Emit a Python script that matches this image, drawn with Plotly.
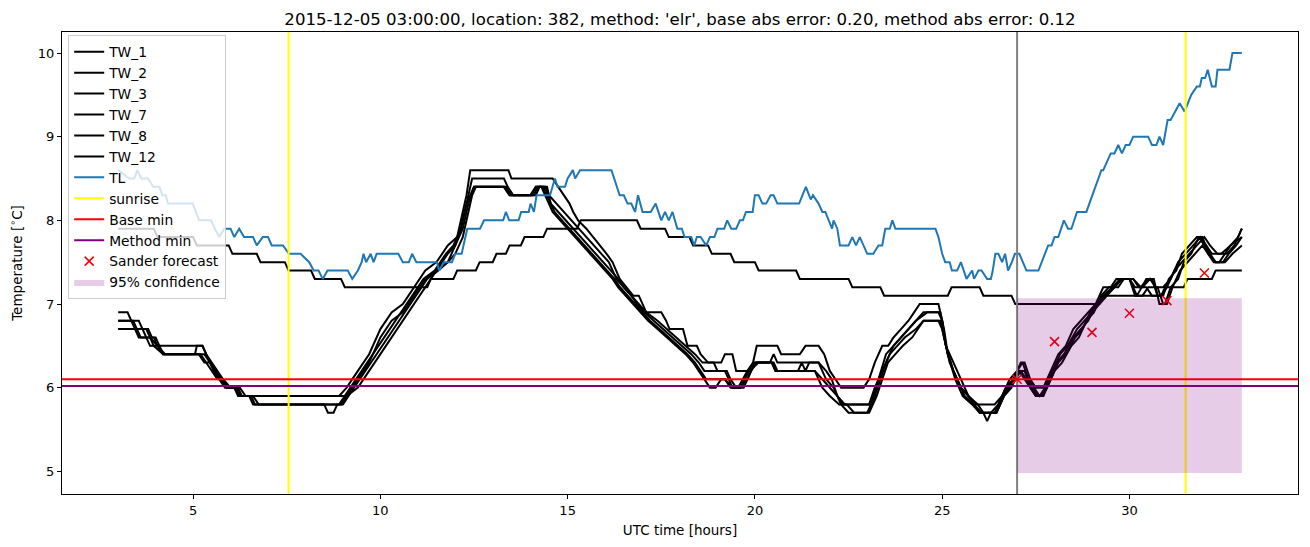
import plotly.graph_objects as go

TITLE = "2015-12-05 03:00:00, location: 382, method: 'elr', base abs error: 0.20, method abs error: 0.12"

# ---- road-surface sensors (x = UTC hour, y = temperature) ----
TW_1 = [(3.0,6.9),(3.25,6.9),(3.35,6.8),(3.55,6.8),(3.65,6.7),(3.8,6.7),(3.9,6.6),(4.0,6.6),(4.1,6.5),
        (5.25,6.5),(5.35,6.4),(5.45,6.3),(5.6,6.2),(5.75,6.1),(5.9,6.0),(6.1,6.0),(6.25,5.9),(8.9,5.9),
        (9.1,6.0),(9.4,6.2),(9.7,6.4),(10.0,6.7),(10.3,6.9),(10.6,7.0),(10.9,7.2),(11.2,7.4),(11.5,7.5),
        (11.8,7.7),(12.05,7.8),(12.2,8.1),(12.3,8.3),(12.4,8.6),(13.42,8.6),(13.5,8.5),(14.6,8.5),
        (14.75,8.4),(14.9,8.3),(15.05,8.2),(15.15,8.1),(15.28,8.0),(15.5,7.9),(15.67,7.8),(15.86,7.7),
        (16.04,7.6),(16.2,7.5),(16.39,7.3),(16.57,7.2),(16.75,7.1),(16.9,7.1),(17.1,6.9),(17.5,6.9),
        (17.63,6.8),(17.72,6.7),(18.08,6.7),(18.2,6.5),(18.45,6.5),(18.55,6.4),(18.75,6.3),(19.1,6.3),
        (19.2,6.4),(19.4,6.4),(19.5,6.2),(19.8,6.2),(19.95,6.3),(20.05,6.5),(20.6,6.5),(20.7,6.4),
        (21.2,6.4),(21.35,6.5),(21.7,6.5),(21.85,6.4),(22.0,6.2),(22.15,6.1),(22.3,6.0),(22.9,6.0),
        (23.05,6.1),(23.2,6.3),(23.4,6.5),(23.56,6.5),(23.7,6.6),(23.9,6.7),(24.1,6.8),(24.25,6.9),
        (24.4,7.0),(24.9,7.0),(25.0,6.8),(25.1,6.5),(25.3,6.3),(25.5,6.1),(25.7,5.9),(25.9,5.8),
        (26.4,5.8),(26.6,5.9),(26.8,6.1),(27.0,6.2),(27.1,6.3),(27.2,6.3),(27.35,6.1),(27.5,6.0),
        (27.7,6.0),(27.9,6.2),(28.1,6.4),(28.3,6.5),(28.5,6.7),(28.7,6.8),(28.9,6.9),(29.1,7.0),
        (29.3,7.2),(29.5,7.2),(29.65,7.3),(30.0,7.3),(30.2,7.1),(30.45,7.3),(30.6,7.3),(30.75,7.1),
        (30.9,7.1),(31.05,7.3),(31.25,7.4),(31.4,7.6),(31.6,7.7),(31.8,7.8),(31.95,7.8),(32.1,7.6),
        (32.25,7.5),(32.4,7.5),(32.55,7.6),(32.7,7.7),(32.9,7.8),(33.0,7.9)]

TW_2 = [(3.0,6.8),(3.35,6.8),(3.45,6.7),(3.65,6.7),(3.75,6.6),(3.95,6.6),(4.05,6.5),(4.2,6.4),
        (5.15,6.4),(5.3,6.3),(5.45,6.3),(5.55,6.2),(5.7,6.1),(5.85,6.0),(6.1,6.0),(6.2,5.9),(8.9,5.9),
        (9.1,5.9),(9.4,6.1),(9.7,6.3),(10.0,6.6),(10.3,6.8),(10.6,6.9),(10.9,7.1),(11.2,7.3),(11.5,7.4),
        (11.8,7.6),(12.0,7.7),(12.15,7.9),(12.3,8.2),(12.45,8.5),(13.3,8.5),(13.4,8.4),(13.55,8.3),
        (14.1,8.3),(14.2,8.4),(14.4,8.4),(14.5,8.3),(14.7,8.2),(14.9,8.1),(15.1,8.0),(15.3,7.9),
        (15.5,7.8),(15.7,7.7),(15.9,7.6),(16.1,7.5),(16.3,7.3),(16.5,7.2),(16.7,7.1),(16.9,7.0),
        (17.1,6.9),(17.4,6.8),(17.65,6.7),(17.9,6.6),(18.15,6.5),(18.4,6.4),(18.6,6.3),(18.9,6.3),
        (19.0,6.2),(19.25,6.2),(19.35,6.1),(19.5,6.0),(19.7,6.0),(19.9,6.2),(20.05,6.3),(20.4,6.3),
        (20.5,6.4),(20.6,6.3),(21.7,6.3),(21.9,6.2),(22.05,6.1),(22.2,5.9),(22.35,5.8),(23.1,5.8),
        (23.3,6.1),(23.5,6.4),(23.7,6.5),(23.9,6.6),(24.1,6.7),(24.3,6.8),(24.5,6.9),(24.9,6.9),
        (25.0,6.8),(25.1,6.5),(25.3,6.2),(25.5,6.0),(25.7,5.9),(25.85,5.8),(26.0,5.7),(26.4,5.7),
        (26.6,5.9),(26.8,6.0),(27.0,6.2),(27.15,6.3),(27.3,6.1),(27.45,6.0),(27.6,5.9),(27.75,6.0),
        (27.95,6.2),(28.15,6.4),(28.35,6.5),(28.6,6.7),(28.8,6.8),(29.0,6.9),(29.2,7.0),(29.4,7.1),
        (29.6,7.2),(29.8,7.3),(30.1,7.3),(30.3,7.2),(30.5,7.3),(30.65,7.3),(30.8,7.0),(30.95,7.0),
        (31.1,7.2),(31.3,7.3),(31.45,7.5),(31.65,7.6),(31.85,7.8),(32.0,7.7),(32.15,7.6),(32.3,7.5),
        (32.5,7.5),(32.65,7.6),(32.85,7.7),(33.0,7.8)]

TW_3 = [(3.0,6.8),(3.4,6.8),(3.5,6.7),(3.75,6.7),(3.85,6.6),(4.05,6.5),(4.25,6.4),(5.2,6.4),
        (5.35,6.3),(5.5,6.2),(5.65,6.1),(5.8,6.1),(5.95,6.0),(6.2,6.0),(6.3,5.9),(6.55,5.9),(6.65,5.8),
        (8.9,5.8),(9.05,5.9),(9.35,6.1),(9.65,6.3),(9.95,6.5),(10.25,6.7),(10.55,6.9),(10.85,7.1),
        (11.15,7.3),(11.45,7.4),(11.75,7.6),(11.95,7.7),(12.15,7.9),(12.3,8.2),(12.5,8.4),(13.3,8.4),
        (13.45,8.3),(14.15,8.3),(14.25,8.4),(14.45,8.4),(14.55,8.2),(14.75,8.1),(14.95,8.0),(15.15,7.9),
        (15.35,7.8),(15.55,7.7),(15.75,7.6),(15.95,7.5),(16.15,7.4),(16.35,7.3),(16.5,7.2),(16.7,7.1),
        (16.85,7.0),(17.05,6.9),(17.3,6.8),(17.55,6.7),(17.8,6.6),(18.05,6.5),(18.3,6.4),(18.5,6.3),
        (18.65,6.2),(19.2,6.2),(19.4,6.0),(19.6,6.0),(19.85,6.2),(20.1,6.3),(20.5,6.3),(20.6,6.2),
        (21.15,6.2),(21.25,6.3),(21.35,6.2),(21.45,6.3),(21.7,6.3),(21.9,6.1),(22.1,6.0),(22.3,5.8),
        (22.5,5.7),(23.0,5.7),(23.2,5.9),(23.35,6.1),(23.5,6.3),(23.7,6.5),(23.9,6.6),(24.1,6.7),
        (24.3,6.8),(24.6,6.9),(24.95,6.9),(25.05,6.7),(25.15,6.4),(25.35,6.1),(25.55,5.9),(25.8,5.8),
        (26.0,5.7),(26.45,5.7),(26.55,5.8),(26.75,6.0),(26.95,6.1),(27.1,6.2),(27.25,6.1),(27.4,6.0),
        (27.55,5.9),(27.7,5.9),(27.85,6.1),(28.05,6.3),(28.25,6.4),(28.5,6.6),(28.7,6.7),(28.9,6.8),
        (29.1,7.0),(29.3,7.1),(29.55,7.2),(29.75,7.3),(30.0,7.3),(30.15,7.2),(30.35,7.2),(30.55,7.3),
        (30.7,7.2),(30.9,7.2),(31.1,7.3),(31.3,7.5),(31.5,7.6),(31.7,7.7),(31.9,7.8),(32.05,7.7),
        (32.2,7.6),(32.45,7.6),(32.7,7.7),(33.0,7.8)]

TW_7 = [(3.0,6.7),(3.5,6.7),(3.6,6.6),(3.85,6.6),(3.95,6.5),(4.2,6.4),(5.3,6.4),(5.45,6.3),
        (5.6,6.2),(5.75,6.1),(5.95,6.0),(6.25,6.0),(6.4,5.9),(6.6,5.9),(6.75,5.8),(8.5,5.8),(8.6,5.7),
        (8.75,5.7),(8.85,5.8),(9.0,5.8),(9.15,5.9),(9.45,6.1),(9.75,6.3),(10.05,6.5),(10.35,6.7),
        (10.65,6.9),(10.95,7.1),(11.25,7.3),(11.55,7.4),(11.8,7.5),(12.0,7.7),(12.2,7.9),(12.35,8.2),
        (12.5,8.4),(13.35,8.4),(13.5,8.3),(14.05,8.3),(14.15,8.4),(14.35,8.4),(14.45,8.3),(14.65,8.1),
        (14.85,8.0),(15.05,7.9),(15.25,7.8),(15.45,7.7),(15.65,7.6),(15.85,7.5),(16.05,7.4),(16.25,7.3),
        (16.4,7.2),(16.6,7.1),(16.8,7.0),(17.0,6.9),(17.2,6.8),(17.45,6.7),(17.7,6.6),(17.95,6.5),
        (18.2,6.4),(18.4,6.3),(18.55,6.2),(18.7,6.1),(19.2,6.1),(19.35,6.0),(19.55,6.0),(19.8,6.2),
        (20.0,6.3),(20.45,6.3),(20.55,6.2),(21.6,6.2),(21.8,6.1),(22.0,6.0),(22.2,5.9),(22.4,5.8),
        (23.05,5.8),(23.2,6.0),(23.4,6.2),(23.6,6.4),(23.8,6.5),(24.0,6.6),(24.3,6.7),(24.5,6.8),
        (24.95,6.8),(25.05,6.6),(25.2,6.3),(25.4,6.1),(25.6,5.9),(25.85,5.8),(26.05,5.7),(26.45,5.7),
        (26.65,5.9),(26.85,6.0),(27.05,6.2),(27.2,6.2),(27.35,6.0),(27.5,5.9),(27.7,5.9),(27.9,6.1),
        (28.1,6.3),(28.3,6.4),(28.55,6.6),(28.75,6.7),(28.95,6.9),(29.15,7.0),(29.35,7.1),(29.6,7.2),
        (29.8,7.3),(30.0,7.3),(30.15,7.1),(30.35,7.1),(30.5,7.2),(30.75,7.2),(30.9,7.0),(31.0,7.0),
        (31.15,7.2),(31.35,7.4),(31.55,7.5),(31.75,7.6),(31.95,7.7),(32.1,7.6),(32.3,7.5),(32.55,7.5),
        (32.75,7.6),(33.0,7.7)]

TW_8 = [(3.0,6.7),(3.45,6.7),(3.55,6.6),(3.75,6.6),(3.85,6.5),(4.1,6.5),(4.2,6.4),(5.05,6.4),
        (5.1,6.5),(5.25,6.5),(5.35,6.4),(5.5,6.3),(5.65,6.2),(5.8,6.1),(6.0,6.0),(6.15,6.0),(6.3,5.9),
        (6.5,5.9),(6.6,5.8),(8.95,5.8),(9.1,5.9),(9.4,6.0),(9.7,6.2),(10.0,6.4),(10.3,6.6),(10.6,6.8),
        (10.9,7.0),(11.2,7.2),(11.5,7.4),(11.8,7.5),(12.0,7.6),(12.2,7.8),(12.35,8.1),(12.45,8.3),
        (12.55,8.4),(13.3,8.4),(13.45,8.3),(14.0,8.3),(14.15,8.4),(14.3,8.4),(14.4,8.3),(14.6,8.1),
        (14.8,8.0),(15.0,7.9),(15.2,7.8),(15.4,7.7),(15.6,7.6),(15.8,7.5),(16.0,7.4),(16.2,7.3),
        (16.35,7.2),(16.55,7.1),(16.75,7.0),(16.95,6.9),(17.15,6.8),(17.4,6.7),(17.65,6.6),(17.9,6.5),
        (18.15,6.4),(18.35,6.3),(18.5,6.2),(18.65,6.1),(18.8,6.0),(18.95,6.0),(19.1,6.1),(19.2,6.1),
        (19.4,6.0),(19.6,6.0),(19.8,6.1),(20.0,6.3),(20.45,6.3),(20.55,6.2),(21.6,6.2),(21.8,6.0),
        (22.0,5.9),(22.25,5.8),(22.45,5.8),(22.65,5.7),(23.05,5.7),(23.25,5.9),(23.4,6.1),(23.55,6.3),
        (23.75,6.4),(23.95,6.5),(24.2,6.6),(24.35,6.7),(24.5,6.8),(24.9,6.8),(25.0,6.7),(25.15,6.4),
        (25.3,6.2),(25.5,6.0),(25.7,5.9),(25.95,5.8),(26.1,5.7),(26.2,5.6),(26.3,5.7),(26.5,5.8),
        (26.7,6.0),(26.9,6.1),(27.05,6.2),(27.2,6.1),(27.35,6.0),(27.5,5.9),(27.65,5.9),(27.8,6.0),
        (28.0,6.2),(28.2,6.3),(28.45,6.5),(28.65,6.6),(28.85,6.8),(29.05,6.9),(29.25,7.1),(29.45,7.2),
        (29.7,7.2),(29.85,7.3),(30.1,7.3),(30.25,7.2),(30.45,7.2),(30.6,7.1),(30.85,7.1),(31.0,7.2),
        (31.2,7.4),(31.4,7.5),(31.6,7.6),(31.8,7.7),(32.0,7.8),(32.15,7.7),(32.35,7.6),(32.6,7.6),
        (32.8,7.7),(33.0,7.9)]

TW_12 = [(3.0,7.9),(3.95,7.9),(4.05,7.8),(5.0,7.8),(5.1,7.7),(5.95,7.7),(6.05,7.6),(6.7,7.6),
         (6.8,7.5),(7.45,7.5),(7.55,7.4),(8.15,7.4),(8.25,7.3),(8.95,7.3),(9.05,7.2),(11.25,7.2),
         (11.35,7.3),(11.95,7.3),(12.05,7.4),(12.55,7.4),(12.65,7.5),(13.0,7.5),(13.1,7.6),(13.35,7.6),
         (13.45,7.7),(13.75,7.7),(13.85,7.8),(14.35,7.8),(14.45,7.9),(15.25,7.9),(15.35,8.0),(16.85,8.0),
         (16.95,7.9),(17.6,7.9),(17.7,7.8),(18.25,7.8),(18.35,7.7),(18.75,7.7),(18.85,7.6),(19.35,7.6),
         (19.45,7.5),(20.0,7.5),(20.1,7.4),(21.1,7.4),(21.2,7.3),(22.5,7.3),(22.6,7.2),(23.35,7.2),
         (23.45,7.1),(25.15,7.1),(25.25,7.2),(26.0,7.2),(26.1,7.1),(26.85,7.1),(26.95,7.0),(29.2,7.0),
         (29.35,7.1),(30.85,7.1),(30.95,7.2),(31.45,7.2),(31.55,7.3),(32.2,7.3),(32.3,7.4),(33.0,7.4)]

TL = [(3.0,8.6),(3.3,8.5),(3.43,8.5),(3.51,8.6),(3.62,8.5),(3.8,8.5),(3.93,8.4),(4.1,8.4),(4.18,8.3),
      (4.27,8.3),(4.33,8.2),(4.99,8.2),(5.16,8.0),(5.48,8.0),(5.58,7.9),(5.7,7.8),(5.83,7.9),(6.0,7.9),
      (6.1,7.8),(6.23,7.9),(6.36,7.8),(6.6,7.8),(6.7,7.7),(6.86,7.8),(7.0,7.8),(7.1,7.7),(7.4,7.7),
      (7.56,7.6),(7.87,7.6),(8.1,7.5),(8.22,7.4),(8.35,7.4),(8.46,7.3),(8.59,7.4),(9.13,7.4),(9.25,7.3),
      (9.4,7.4),(9.5,7.5),(9.55,7.6),(9.62,7.5),(9.74,7.6),(9.82,7.5),(9.9,7.6),(10.48,7.6),(10.6,7.5),
      (10.76,7.5),(10.85,7.6),(10.96,7.5),(11.51,7.5),(11.57,7.4),(11.7,7.5),(11.91,7.5),(12.0,7.6),
      (12.17,7.6),(12.32,7.9),(12.66,7.9),(12.77,8.0),(13.28,8.0),(13.35,8.1),(13.44,8.0),(13.69,8.0),
      (13.76,8.1),(13.96,8.1),(14.01,8.2),(14.1,8.1),(14.17,8.3),(14.53,8.3),(14.66,8.5),(14.73,8.4),
      (14.93,8.4),(15.0,8.5),(15.14,8.6),(15.2,8.5),(15.33,8.6),(16.17,8.6),(16.39,8.3),(16.5,8.3),
      (16.6,8.2),(16.7,8.2),(16.8,8.1),(16.88,8.3),(17.0,8.1),(17.22,8.1),(17.35,8.2),(17.5,8.0),
      (17.6,8.1),(17.7,8.0),(17.8,8.1),(17.93,7.9),(18.05,7.9),(18.12,7.8),(18.3,7.8),(18.38,7.7),
      (18.45,7.8),(18.55,7.8),(18.7,7.7),(18.8,7.8),(18.92,7.8),(19.0,7.9),(19.18,7.9),(19.26,8.0),
      (19.37,7.9),(19.5,7.9),(19.6,8.0),(19.68,8.0),(19.76,8.1),(19.94,8.1),(20.0,8.3),(20.1,8.3),
      (20.2,8.2),(20.3,8.2),(20.42,8.3),(20.5,8.3),(20.6,8.2),(21.18,8.2),(21.36,8.4),(21.49,8.25),
      (21.55,8.3),(21.7,8.2),(21.8,8.1),(21.88,8.1),(21.98,8.0),(22.06,7.9),(22.1,8.0),(22.2,7.9),
      (22.27,7.7),(22.5,7.7),(22.6,7.8),(22.7,7.7),(22.8,7.8),(22.9,7.7),(23.0,7.6),(23.16,7.6),
      (23.3,7.7),(23.4,7.7),(23.48,7.9),(23.6,7.9),(23.67,8.0),(23.75,7.9),(24.82,7.9),(24.9,7.8),
      (25.0,7.6),(25.08,7.5),(25.2,7.5),(25.26,7.4),(25.4,7.4),(25.5,7.5),(25.58,7.4),(25.65,7.3),
      (25.8,7.4),(25.85,7.3),(25.97,7.4),(26.05,7.4),(26.2,7.3),(26.3,7.3),(26.35,7.4),(26.42,7.6),
      (26.5,7.6),(26.6,7.5),(26.68,7.6),(26.76,7.4),(26.86,7.5),(26.94,7.6),(27.06,7.6),(27.15,7.5),
      (27.25,7.4),(27.57,7.4),(27.7,7.55),(27.83,7.7),(27.92,7.7),(28.0,7.8),(28.1,7.8),(28.25,8.0),
      (28.36,7.9),(28.45,7.9),(28.6,8.1),(28.85,8.1),(29.25,8.6),(29.3,8.6),(29.5,8.8),(29.6,8.8),
      (29.7,8.9),(29.8,8.8),(29.9,8.9),(30.0,8.9),(30.1,9.0),(30.5,9.0),(30.6,8.9),(30.72,8.9),
      (30.8,9.0),(30.9,8.9),(31.02,9.2),(31.1,9.2),(31.34,9.4),(31.47,9.3),(31.65,9.5),(31.8,9.6),
      (31.88,9.6),(31.93,9.7),(32.02,9.7),(32.09,9.8),(32.2,9.6),(32.3,9.6),(32.35,9.8),(32.67,9.8),
      (32.75,10.0),(33.0,10.0)]

SUNRISE = [7.55, 31.5]
FORECAST_START = 27.0
BASE_MIN = 6.10
METHOD_MIN = 6.02
SANDER_X = [27, 28, 29, 30, 31, 32]
SANDER_Y = [6.10, 6.55, 6.66, 6.89, 7.04, 7.37]
CONF_X = [27.0, 33.0]
CONF_LOW = 4.98
CONF_HIGH = 7.07

X_RANGE = [1.5, 34.5]
Y_RANGE = [4.729, 10.251]

FONT = "DejaVu Sans"
LW = 2.0

fig = go.Figure()

tw_series = [("TW_1", TW_1), ("TW_2", TW_2), ("TW_3", TW_3), ("TW_7", TW_7), ("TW_8", TW_8), ("TW_12", TW_12)]
for name, pts in tw_series:
    fig.add_trace(go.Scatter(x=[p[0] for p in pts], y=[p[1] for p in pts], mode="lines",
                             name=name, line=dict(color="black", width=LW)))

fig.add_trace(go.Scatter(x=[p[0] for p in TL], y=[p[1] for p in TL], mode="lines", name="TL",
                         line=dict(color="#1f77b4", width=LW)))

sx, sy = [], []
for s in SUNRISE:
    sx += [s, s, None]
    sy += [Y_RANGE[0], Y_RANGE[1], None]
fig.add_trace(go.Scatter(x=sx, y=sy, mode="lines", name="sunrise", line=dict(color="yellow", width=LW)))

fig.add_trace(go.Scatter(x=[FORECAST_START, FORECAST_START], y=Y_RANGE, mode="lines", showlegend=False,
                         line=dict(color="gray", width=LW)))

fig.add_trace(go.Scatter(x=X_RANGE, y=[BASE_MIN, BASE_MIN], mode="lines", name="Base min",
                         line=dict(color="red", width=LW)))
fig.add_trace(go.Scatter(x=X_RANGE, y=[METHOD_MIN, METHOD_MIN], mode="lines", name="Method min",
                         line=dict(color="purple", width=LW)))

fig.add_trace(go.Scatter(x=SANDER_X, y=SANDER_Y, mode="markers", name="Sander forecast",
                         marker=dict(symbol="x-thin", size=9, line=dict(color="red", width=1.6), color="red")))

fig.add_trace(go.Scatter(x=[CONF_X[0], CONF_X[1], CONF_X[1], CONF_X[0], CONF_X[0]],
                         y=[CONF_LOW, CONF_LOW, CONF_HIGH, CONF_HIGH, CONF_LOW],
                         mode="lines", fill="toself", fillcolor="rgba(128,0,128,0.2)",
                         line=dict(width=0, color="rgba(128,0,128,0.2)"), name="95% confidence"))

axis_common = dict(showline=True, linecolor="black", linewidth=1, mirror=True, ticks="outside",
                   ticklen=4, tickcolor="black", tickwidth=1, showgrid=False, zeroline=False,
                   tickfont=dict(family=FONT, size=13, color="black"))

fig.update_layout(
    width=1310, height=547,
    margin=dict(l=62, r=12, t=32, b=53),
    paper_bgcolor="white", plot_bgcolor="white",
    font=dict(family=FONT, color="black"),
    title=dict(text=TITLE, x=0.5, xref="paper", xanchor="center", y=1, yref="paper", yanchor="bottom",
               pad=dict(b=7), font=dict(family=FONT, size=16.6, color="black")),
    xaxis=dict(range=X_RANGE, tickvals=[5, 10, 15, 20, 25, 30],
               title=dict(text="UTC time [hours]", font=dict(family=FONT, size=13.5), standoff=8),
               **axis_common),
    yaxis=dict(range=Y_RANGE, tickvals=[5, 6, 7, 8, 9, 10],
               title=dict(text="Temperature [<sup>∘</sup>C]", font=dict(family=FONT, size=13.5), standoff=12),
               **axis_common),
    legend=dict(x=0.005, y=0.993, xanchor="left", yanchor="top", bgcolor="rgba(255,255,255,0.8)",
                bordercolor="#cccccc", borderwidth=1, font=dict(family=FONT, size=13.8, color="black"),
                tracegroupgap=0, itemwidth=30),
    showlegend=True,
)

fig.write_html("out.html")
